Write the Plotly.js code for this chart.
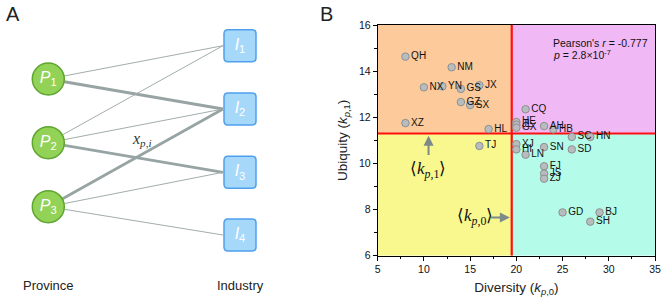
<!DOCTYPE html>
<html><head><meta charset="utf-8">
<script src="https://cdn.plot.ly/plotly-3.0.1.min.js"></script>
<style>html,body{margin:0;padding:0;background:#fff}#plot{width:664px;height:301px}</style>
</head><body><div id="plot"></div>
<script>
// ---------- Panel B data ----------
const provinces = ['QH','NM','NX','YN','GS','JX','GZ','SX','XZ','HL','TJ','CQ','HE','JL','GX','AH','HB','SC','HN','XJ','HI','LN','SN','SD','FJ','JS','ZJ','GD','BJ','SH'];
const diversity = [8,13,10,12,14,16,14,15,8,17,16,21,20,20,20,23,24,26,28,20,20,21,23,26,23,23,23,25,29,28];
const ubiquity  = [14.63,14.17,13.30,13.34,13.23,13.39,12.66,12.53,11.75,11.49,10.76,12.35,11.80,11.68,11.55,11.62,11.48,11.15,11.15,10.84,10.61,10.38,10.71,10.61,9.88,9.56,9.34,7.88,7.88,7.48];
const meanDiversity = 19.5;
const meanUbiquity = 11.3;
const xTicks = [5,10,15,20,25,30,35];
const yTicks = [6,8,10,12,14,16];

// ---------- Panel A diagram ----------
const provNodes = ['P1','P2','P3'];
const indNodes  = ['I1','I2','I3','I4'];
const provY = [79, 142.7, 206.7];
const indY  = [45.7, 109, 172.3, 235];
const edgeFrom   = ['P1','P1','P2','P2','P2','P3','P3','P3'];
const edgeTo     = ['I1','I2','I1','I2','I3','I2','I3','I4'];
const edgeWeight = [1,3,1,1,3,3,1,1];

const provX = 48.3, indX = 240, nodeR = 16;
const traces = [];
edgeFrom.forEach((p,k)=>{
  const pi = provNodes.indexOf(p), ii = indNodes.indexOf(edgeTo[k]);
  traces.push({x:[provX, indX-nodeR-1], y:[provY[pi], indY[ii]], xaxis:'x2', yaxis:'y2', mode:'lines',
    line:{color: edgeWeight[k]>1 ? '#98a4a4' : '#a3adad', width: edgeWeight[k]>1 ? 2.8 : 1}, hoverinfo:'skip', showlegend:false});
});
traces.push({x:provNodes.map(()=>provX), y:provY, xaxis:'x2', yaxis:'y2', mode:'markers+text',
  text:provNodes.map(n=>'<i>P</i><sub>'+n.slice(1)+'</sub>'), textposition:'middle center',
  textfont:{family:'Liberation Sans, Arial', size:16, color:'#ffffff'},
  marker:{size:32, color:'#92d256', line:{color:'#5fa530', width:1.5}}, hoverinfo:'skip', showlegend:false});
traces.push({x:indNodes.map(()=>indX), y:indY, xaxis:'x2', yaxis:'y2', mode:'text',
  text:indNodes.map(n=>'<i>I</i><sub>'+n.slice(1)+'</sub>'), textposition:'middle center',
  textfont:{family:'Liberation Sans, Arial', size:16, color:'#ffffff'}, hoverinfo:'skip', showlegend:false});

// scatter
traces.push({x:diversity, y:ubiquity, mode:'markers+text', text:provinces, textposition:'middle right',
  textfont:{family:'Liberation Sans, Arial', size:10, color:'#111'},
  marker:{size:7.5, color:'#b8bcbd', line:{color:'#8c9091', width:1}}, hoverinfo:'x+y+text', showlegend:false,
  cliponaxis:false});

const shapes = [];
// rounded rectangles for industry nodes
indY.forEach(y=>{
  const h=nodeR, r=4, x0=indX-h, x1=indX+h, y0=y-h, y1=y+h;
  shapes.push({type:'path', xref:'x2', yref:'y2', layer:'below',
    path:`M${x0+r},${y0} L${x1-r},${y0} Q${x1},${y0} ${x1},${y0+r} L${x1},${y1-r} Q${x1},${y1} ${x1-r},${y1} L${x0+r},${y1} Q${x0},${y1} ${x0},${y1-r} L${x0},${y0+r} Q${x0},${y0} ${x0+r},${y0} Z`,
    fillcolor:'#a6d8fa', line:{color:'#4f9fee', width:1.5}});
});
// quadrants
const q = (x0,x1,y0,y1,c)=>shapes.push({type:'rect', xref:'x', yref:'y', layer:'below', x0,x1,y0,y1, fillcolor:c, line:{width:0}});
q(5, meanDiversity, meanUbiquity, 16, '#fdca9b');
q(meanDiversity, 35, meanUbiquity, 16, '#f1b8f6');
q(5, meanDiversity, 6, meanUbiquity, '#f8f88f');
q(meanDiversity, 35, 6, meanUbiquity, '#b4fce9');
shapes.push({type:'line', xref:'x', yref:'y', layer:'below', x0:meanDiversity, x1:meanDiversity, y0:6, y1:16, line:{color:'#ff1010', width:2.2}});
shapes.push({type:'line', xref:'x', yref:'y', layer:'below', x0:5, x1:35, y0:meanUbiquity, y1:meanUbiquity, line:{color:'#ff1010', width:2.2}});

const txt = {family:'Liberation Sans, Arial', color:'#222'};
const annotations = [
  {xref:'paper', yref:'paper', x:13/664, y:1-14/301, text:'A', showarrow:false, font:{...txt, size:20}, xanchor:'center', yanchor:'middle'},
  {xref:'paper', yref:'paper', x:326/664, y:1-14/301, text:'B', showarrow:false, font:{...txt, size:20}, xanchor:'center', yanchor:'middle'},
  {xref:'x2', yref:'y2', x:provX, y:285, text:'Province', showarrow:false, font:{...txt, size:13}},
  {xref:'x2', yref:'y2', x:indX, y:285, text:'Industry', showarrow:false, font:{...txt, size:13}},
  {xref:'x2', yref:'y2', x:142, y:139, text:'<i>x</i><sub><i>p</i>,<i>i</i></sub>', showarrow:false, font:{family:'Liberation Serif, Times New Roman', size:16, color:'#333'}},
  {xref:'x', yref:'y', x:23.8, y:15.23, text:"Pearson's <i>r</i> = -0.777", showarrow:false, xanchor:'left', font:{...txt, size:10.5, color:'#111'}},
  {xref:'x', yref:'y', x:23.8, y:14.72, text:'<i>p</i> = 2.8×10<sup>-7</sup>', showarrow:false, xanchor:'left', font:{...txt, size:10.5, color:'#111'}},
  {xref:'x', yref:'y', x:10.5, y:11.2, axref:'x', ayref:'y', ax:10.5, ay:10.3, text:'', showarrow:true, arrowhead:2, arrowsize:1, arrowwidth:2, arrowcolor:'#7c8a8a'},
  {xref:'x', yref:'y', x:10.45, y:9.7, text:'⟨<i>k</i><sub><i>p</i>,1</sub>⟩', showarrow:false, font:{family:'Liberation Serif, Times New Roman', size:17, color:'#111'}},
  {xref:'x', yref:'y', x:19.3, y:7.66, axref:'x', ayref:'y', ax:17.1, ay:7.66, text:'', showarrow:true, arrowhead:2, arrowsize:1, arrowwidth:2, arrowcolor:'#7c8a8a'},
  {xref:'x', yref:'y', x:15.5, y:7.66, text:'⟨<i>k</i><sub><i>p</i>,0</sub>⟩', showarrow:false, font:{family:'Liberation Serif, Times New Roman', size:17, color:'#111'}}
];

const dx0 = 377.7/664, dx1 = 655/664, dy0 = 1-255.8/301, dy1 = 1-25/301;
const axCommon = {showgrid:false, zeroline:false, linecolor:'#000', linewidth:1, tickcolor:'#000', ticklen:4, tickwidth:1,
  tickfont:{family:'Liberation Sans, Arial', size:10.5, color:'#111'}};
const layout = {
  width:664, height:301, margin:{l:0,r:0,t:0,b:0}, paper_bgcolor:'#fff', plot_bgcolor:'#fff', showlegend:false,
  font:{family:'Liberation Sans, Arial'},
  xaxis:{...axCommon, domain:[dx0,dx1], anchor:'y', range:[5,35], tickvals:xTicks, ticks:'outside', mirror:true,
    minor:{dtick:2.5, ticks:'outside', ticklen:2.5, tickcolor:'#000'},
    title:{text:'Diversity (<i>k</i><sub><i>p</i>,0</sub>)', font:{family:'Liberation Sans, Arial', size:13.5, color:'#222'}, standoff:8}},
  yaxis:{...axCommon, domain:[dy0,dy1], anchor:'x', range:[6,16], tickvals:yTicks, ticks:'outside', mirror:true,
    minor:{dtick:1, ticks:'outside', ticklen:2.5, tickcolor:'#000'},
    title:{text:'Ubiquity (<i>k</i><sub><i>p</i>,1</sub>)', font:{family:'Liberation Sans, Arial', size:13.5, color:'#222'}, standoff:8}},
  xaxis3:{...axCommon, overlaying:'x', side:'top', anchor:'y', range:[5,35], tickvals:xTicks, ticks:'inside', showticklabels:false, showline:false,
    minor:{dtick:2.5, ticks:'inside', ticklen:2.5, tickcolor:'#000'}},
  yaxis3:{...axCommon, overlaying:'y', side:'right', anchor:'x', range:[6,16], tickvals:yTicks, ticks:'inside', showticklabels:false, showline:false,
    minor:{dtick:1, ticks:'inside', ticklen:2.5, tickcolor:'#000'}},
  xaxis2:{domain:[0,325/664], range:[0,325], visible:false, anchor:'y2', fixedrange:true},
  yaxis2:{domain:[0,1], range:[301,0], visible:false, anchor:'x2', fixedrange:true},
  shapes, annotations
};
Plotly.newPlot('plot', traces, layout, {displayModeBar:false, staticPlot:true});
</script></body></html>
